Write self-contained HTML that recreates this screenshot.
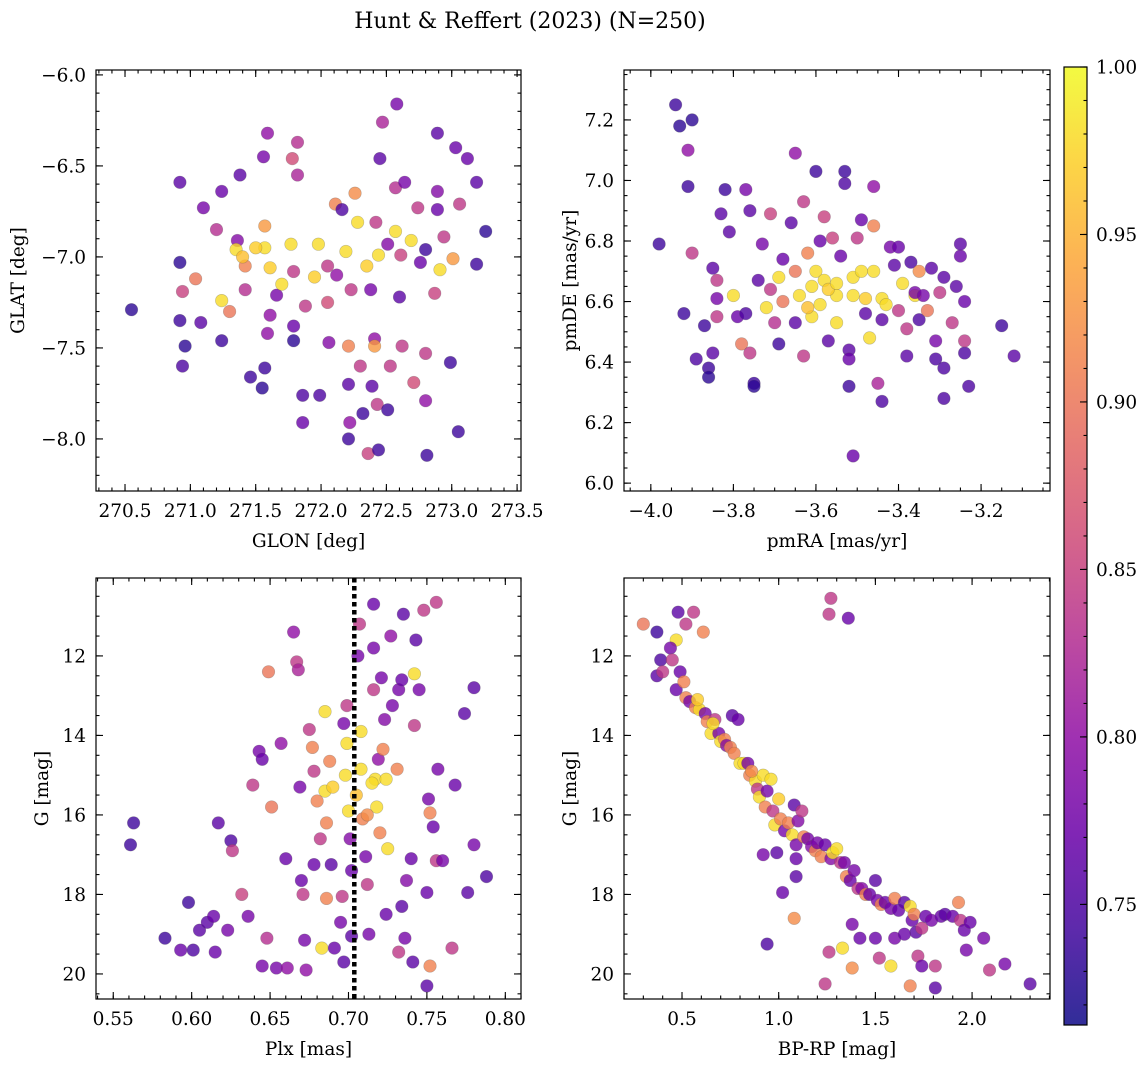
<!DOCTYPE html>
<html><head><meta charset="utf-8">
<style>
html,body{margin:0;padding:0;background:#fff;}
svg{display:block;font-family:"DejaVu Serif","Liberation Serif",serif;}
</style></head>
<body>
<svg id="fig" width="1148" height="1067" viewBox="0 0 1148 1067" xmlns="http://www.w3.org/2000/svg">
<text x="530" y="28" font-size="22" text-anchor="middle">Hunt &amp; Reffert (2023) (N=250)</text>
</svg>
<script>
// ---- Panel 1: GLON vs GLAT ----
const p1Lon=[270.55,270.92,270.92,270.92,270.96,270.94,270.94,271.04,271.10,271.08,271.24,271.20,271.24,271.24,271.38,271.36,271.35,271.42,271.42,271.46,271.55,271.59,271.56,271.57,271.57,271.61,271.66,271.59,271.57,271.78,271.82,271.77,271.79,271.79,271.79,271.82,271.86,271.86,271.98,271.95,271.99,272.05,272.11,272.06,272.12,272.16,272.19,272.23,272.21,272.26,272.28,272.21,272.22,272.21,272.30,272.32,272.36,272.38,272.42,272.44,272.41,272.43,272.44,272.45,272.47,272.51,272.53,272.41,272.39,272.51,272.58,272.57,272.57,272.61,272.60,272.64,272.62,272.69,272.71,272.74,272.76,272.80,272.80,272.80,272.81,272.89,272.89,272.89,272.91,272.94,273.01,273.03,272.99,273.06,273.12,273.05,273.19,273.19,273.26,272.87,271.61,271.88,271.40,271.70,271.30,272.35,272.05,271.50];
const p1Lat=[-7.29,-6.59,-7.03,-7.35,-7.49,-7.60,-7.19,-7.12,-6.73,-7.36,-6.64,-6.85,-7.24,-7.46,-6.55,-6.91,-6.96,-7.05,-7.18,-7.66,-7.72,-6.32,-6.45,-6.83,-6.95,-7.06,-7.21,-7.42,-7.61,-6.46,-6.55,-6.93,-7.08,-7.38,-7.46,-6.37,-7.91,-7.76,-6.93,-7.11,-7.76,-7.05,-6.71,-7.47,-7.10,-6.74,-6.97,-7.18,-7.49,-6.65,-6.81,-7.70,-7.91,-8.00,-7.60,-7.86,-8.08,-7.18,-6.81,-6.99,-7.45,-7.81,-8.06,-6.46,-6.26,-6.93,-7.60,-7.49,-7.71,-7.84,-6.16,-6.62,-6.86,-6.99,-7.22,-6.59,-7.49,-6.91,-7.69,-6.73,-7.03,-6.96,-7.53,-7.79,-8.09,-6.32,-6.64,-6.74,-7.07,-6.89,-7.01,-6.40,-7.58,-6.71,-6.46,-7.96,-7.04,-6.59,-6.86,-7.20,-7.32,-7.27,-7.00,-7.15,-7.30,-7.05,-7.25,-6.95];
const p1Prob=[0.73,0.76,0.73,0.74,0.73,0.75,0.85,0.90,0.78,0.76,0.77,0.83,0.98,0.74,0.76,0.79,0.98,0.91,0.83,0.74,0.73,0.80,0.78,0.93,0.98,0.97,0.78,0.80,0.74,0.86,0.82,0.98,0.84,0.77,0.73,0.83,0.77,0.75,0.98,0.97,0.75,0.84,0.91,0.79,0.80,0.75,0.98,0.84,0.91,0.92,0.98,0.76,0.80,0.74,0.84,0.74,0.85,0.78,0.84,0.98,0.80,0.84,0.74,0.76,0.82,0.79,0.84,0.93,0.76,0.74,0.78,0.83,0.98,0.85,0.76,0.78,0.84,0.98,0.86,0.84,0.77,0.74,0.84,0.80,0.74,0.76,0.79,0.77,0.98,0.84,0.93,0.77,0.74,0.84,0.77,0.74,0.74,0.76,0.73,0.85,0.80,0.84,0.96,0.98,0.90,0.97,0.86,0.97];
// ---- Panel 2: pmRA vs pmDE ----
const p2Ra=[-3.98,-3.94,-3.93,-3.91,-3.90,-3.91,-3.90,-3.92,-3.89,-3.87,-3.86,-3.86,-3.85,-3.85,-3.84,-3.84,-3.84,-3.83,-3.82,-3.81,-3.80,-3.79,-3.78,-3.77,-3.77,-3.76,-3.76,-3.75,-3.75,-3.74,-3.73,-3.72,-3.71,-3.71,-3.70,-3.69,-3.69,-3.68,-3.68,-3.66,-3.65,-3.65,-3.65,-3.64,-3.63,-3.63,-3.62,-3.61,-3.61,-3.60,-3.60,-3.59,-3.59,-3.58,-3.58,-3.57,-3.56,-3.55,-3.55,-3.54,-3.53,-3.53,-3.52,-3.52,-3.52,-3.51,-3.51,-3.51,-3.50,-3.49,-3.49,-3.48,-3.47,-3.46,-3.46,-3.46,-3.45,-3.44,-3.44,-3.44,-3.43,-3.42,-3.41,-3.40,-3.40,-3.39,-3.38,-3.38,-3.37,-3.36,-3.36,-3.35,-3.35,-3.34,-3.33,-3.32,-3.31,-3.31,-3.30,-3.29,-3.29,-3.29,-3.27,-3.26,-3.25,-3.25,-3.24,-3.24,-3.23,-3.24,-3.15,-3.12,-3.57,-3.55,-3.62,-3.48];
const p2De=[6.79,7.25,7.18,7.10,7.20,6.98,6.76,6.56,6.41,6.52,6.38,6.35,6.43,6.71,6.67,6.61,6.55,6.89,6.97,6.83,6.62,6.55,6.46,6.56,6.97,6.90,6.43,6.33,6.32,6.67,6.79,6.58,6.89,6.64,6.53,6.46,6.68,6.74,6.60,6.86,7.09,6.53,6.70,6.62,6.42,6.93,6.76,6.55,6.65,7.03,6.70,6.80,6.59,6.67,6.88,6.47,6.81,6.62,6.53,6.75,7.03,6.99,6.44,6.41,6.32,6.62,6.68,6.09,6.81,6.70,6.87,6.56,6.48,6.85,6.98,6.70,6.33,6.61,6.27,6.54,6.59,6.78,6.72,6.78,6.57,6.66,6.51,6.42,6.73,6.62,6.63,6.54,6.70,6.62,6.57,6.71,6.41,6.47,6.63,6.68,6.28,6.38,6.53,6.65,6.75,6.79,6.43,6.60,6.32,6.47,6.52,6.42,6.64,6.66,6.58,6.61];
const p2Prob=[0.74,0.74,0.73,0.80,0.73,0.74,0.84,0.74,0.75,0.74,0.74,0.73,0.76,0.76,0.84,0.78,0.84,0.76,0.74,0.76,0.98,0.77,0.90,0.75,0.78,0.76,0.84,0.74,0.73,0.76,0.78,0.98,0.85,0.84,0.83,0.74,0.98,0.77,0.90,0.76,0.80,0.76,0.90,0.98,0.84,0.84,0.91,0.98,0.98,0.74,0.98,0.77,0.98,0.98,0.85,0.76,0.85,0.98,0.98,0.77,0.74,0.75,0.76,0.77,0.74,0.98,0.98,0.77,0.84,0.98,0.77,0.76,0.98,0.91,0.80,0.98,0.82,0.98,0.75,0.76,0.98,0.78,0.76,0.77,0.84,0.98,0.84,0.76,0.75,0.98,0.78,0.75,0.92,0.78,0.90,0.76,0.75,0.78,0.84,0.76,0.75,0.75,0.84,0.76,0.77,0.76,0.75,0.77,0.75,0.84,0.74,0.76,0.97,0.98,0.96,0.97];
// ---- Panel 3: Plx vs G ----
const p3Plx=[0.563,0.561,0.583,0.593,0.598,0.601,0.605,0.610,0.614,0.617,0.615,0.625,0.626,0.623,0.632,0.636,0.639,0.643,0.645,0.645,0.648,0.651,0.654,0.649,0.657,0.660,0.661,0.665,0.667,0.668,0.669,0.670,0.671,0.672,0.673,0.675,0.677,0.678,0.678,0.680,0.682,0.683,0.685,0.685,0.686,0.686,0.688,0.689,0.691,0.695,0.696,0.698,0.699,0.697,0.699,0.700,0.701,0.702,0.702,0.697,0.707,0.706,0.708,0.708,0.709,0.711,0.712,0.713,0.716,0.716,0.716,0.717,0.718,0.719,0.720,0.721,0.722,0.723,0.724,0.725,0.724,0.727,0.728,0.731,0.732,0.732,0.734,0.734,0.736,0.735,0.737,0.740,0.742,0.742,0.743,0.745,0.748,0.750,0.750,0.752,0.752,0.751,0.756,0.754,0.756,0.757,0.760,0.766,0.768,0.774,0.776,0.780,0.780,0.788,0.741,0.690,0.715,0.705,0.712];
const p3G=[16.2,16.75,19.1,19.4,18.2,19.4,18.9,18.7,18.55,16.2,19.45,16.65,16.9,18.9,18.0,18.55,15.25,14.4,14.6,19.8,19.1,15.8,19.85,12.4,14.2,17.1,19.85,11.4,12.15,12.35,15.3,17.65,18.0,19.15,19.9,13.85,14.3,14.9,17.25,15.65,16.6,19.35,13.4,15.4,16.2,18.1,14.65,17.25,19.35,18.7,18.05,15.0,14.2,13.7,13.25,15.9,16.6,17.4,19.05,19.7,11.2,12.0,13.9,14.85,16.1,17.05,17.75,19.0,10.7,11.8,12.85,15.1,15.8,14.6,16.45,12.55,14.35,13.6,15.1,16.85,18.5,11.5,13.25,14.85,12.85,19.45,12.6,18.3,19.1,10.95,17.65,17.1,13.75,12.45,11.6,12.85,10.85,20.3,17.95,19.8,15.95,15.6,10.65,16.3,17.15,14.85,17.15,19.35,15.25,13.45,17.95,12.8,16.75,17.55,19.7,15.3,15.2,15.5,16.0];
const p3Prob=[0.74,0.74,0.74,0.77,0.74,0.75,0.76,0.76,0.77,0.76,0.77,0.75,0.84,0.78,0.85,0.78,0.84,0.78,0.77,0.78,0.83,0.90,0.78,0.90,0.80,0.77,0.80,0.80,0.84,0.82,0.78,0.77,0.84,0.78,0.80,0.84,0.91,0.84,0.77,0.91,0.84,0.98,0.98,0.98,0.91,0.91,0.91,0.76,0.77,0.78,0.84,0.98,0.98,0.78,0.84,0.98,0.79,0.77,0.76,0.76,0.84,0.78,0.98,0.98,0.91,0.78,0.84,0.78,0.77,0.78,0.84,0.98,0.98,0.80,0.91,0.78,0.91,0.79,0.98,0.98,0.77,0.80,0.78,0.91,0.78,0.84,0.77,0.76,0.78,0.76,0.79,0.77,0.84,0.98,0.76,0.78,0.84,0.76,0.77,0.91,0.91,0.78,0.84,0.77,0.84,0.78,0.78,0.84,0.77,0.76,0.76,0.76,0.78,0.75,0.76,0.97,0.98,0.96,0.92];
// ---- Panel 4: BP-RP vs G ----
const p4Col=[0.30,0.37,0.39,0.37,0.40,0.47,0.48,0.52,0.56,0.61,0.44,0.45,0.47,0.49,0.51,0.52,0.54,0.57,0.59,0.62,0.63,0.65,0.67,0.69,0.70,0.72,0.73,0.75,0.76,0.79,0.77,0.80,0.82,0.84,0.85,0.88,0.89,0.90,0.92,0.93,0.94,0.96,0.97,0.98,0.99,1.01,1.03,1.05,1.07,1.08,1.09,1.09,1.10,1.12,1.13,1.15,1.17,1.19,1.20,1.22,1.24,1.27,1.28,1.30,1.32,1.34,1.35,1.37,1.39,1.41,1.43,1.45,1.47,1.50,1.51,1.53,1.55,1.58,1.60,1.62,1.65,1.68,1.69,1.70,1.71,1.74,1.76,1.79,1.84,1.86,1.90,1.93,1.94,1.96,1.97,1.99,2.06,2.09,2.17,2.30,0.92,1.09,1.02,0.94,1.08,1.24,1.26,1.27,1.26,1.36,1.33,1.38,1.42,1.50,1.52,1.58,1.60,1.65,1.68,1.72,1.74,1.81,1.81,1.38,0.58,0.66,0.86,1.00];
const p4G=[11.2,11.4,12.1,12.5,12.4,11.6,10.9,11.2,10.9,11.4,11.8,12.1,12.85,12.4,12.65,13.05,13.15,13.3,13.35,13.45,13.65,13.95,13.6,13.95,14.15,14.1,14.25,14.3,13.5,13.6,14.45,14.7,14.7,14.7,15.0,15.15,15.35,15.55,15.0,15.8,15.4,15.1,15.9,16.25,16.95,16.1,16.4,16.2,16.5,15.75,16.75,17.55,16.15,15.9,16.55,16.6,16.8,16.9,16.7,17.05,16.75,17.1,16.95,16.85,17.2,17.2,17.55,17.65,17.4,17.85,17.85,18.0,18.0,17.65,18.15,18.25,18.2,18.35,18.1,18.4,18.2,18.3,18.65,18.5,18.95,18.85,18.55,18.65,18.55,18.5,18.55,18.2,18.65,18.9,19.4,18.7,19.1,19.9,19.75,20.25,17.0,17.1,17.95,19.25,18.6,20.25,19.45,10.55,10.95,11.05,19.35,19.85,19.1,19.1,19.6,19.8,19.1,19.0,20.3,19.55,19.8,20.35,19.8,18.75,13.1,13.7,14.9,15.6];
const p4Prob=[0.90,0.74,0.75,0.76,0.84,0.98,0.76,0.84,0.84,0.91,0.78,0.84,0.77,0.77,0.91,0.91,0.78,0.91,0.98,0.78,0.91,0.98,0.84,0.78,0.98,0.91,0.79,0.91,0.76,0.77,0.91,0.98,0.98,0.78,0.91,0.98,0.84,0.98,0.98,0.91,0.78,0.98,0.84,0.98,0.76,0.91,0.78,0.91,0.98,0.76,0.78,0.76,0.79,0.84,0.91,0.78,0.79,0.91,0.78,0.91,0.77,0.79,0.98,0.98,0.84,0.78,0.91,0.77,0.78,0.84,0.79,0.91,0.77,0.76,0.78,0.91,0.77,0.78,0.91,0.77,0.76,0.98,0.77,0.91,0.76,0.84,0.77,0.78,0.77,0.76,0.77,0.91,0.84,0.77,0.78,0.77,0.78,0.84,0.78,0.76,0.78,0.77,0.77,0.75,0.92,0.84,0.84,0.84,0.84,0.77,0.98,0.92,0.77,0.77,0.84,0.98,0.78,0.77,0.91,0.84,0.77,0.76,0.84,0.78,0.97,0.98,0.92,0.97];
// ---- axis ticks ----
const p1XTicks=[270.5,271.0,271.5,272.0,272.5,273.0,273.5];
const p1YTicks=[-6.0,-6.5,-7.0,-7.5,-8.0];
const p2XTicks=[-4.0,-3.8,-3.6,-3.4,-3.2];
const p2YTicks=[6.0,6.2,6.4,6.6,6.8,7.0,7.2];
const p3XTicks=[0.55,0.60,0.65,0.70,0.75,0.80];
const gTicks=[12,14,16,18,20];
const p4XTicks=[0.5,1.0,1.5,2.0];
const cbTicks=[0.75,0.80,0.85,0.90,0.95,1.00];
const plxMean=0.7037;

const NS="http://www.w3.org/2000/svg";
const svg=document.getElementById('fig');
function mk(tag,attrs,parent){const e=document.createElementNS(NS,tag);for(const k in attrs)e.setAttribute(k,attrs[k]);(parent||svg).appendChild(e);return e;}
const CMIN=0.714,CMAX=1.0;
const stops=[[13,8,135],[65,4,157],[106,0,168],[143,13,164],[177,42,144],[204,71,120],[225,100,98],[242,132,75],[252,166,54],[252,206,37],[240,249,33]];
function plasma(t){t=Math.max(0,Math.min(1,t));const f=t*10,i=Math.min(9,Math.floor(f)),r=f-i;const a=stops[i],b=stops[i+1];return 'rgb('+a.map((v,k)=>Math.round(v+(b[k]-v)*r)).join(',')+')';}
function cmap(p){return plasma((p-CMIN)/(CMAX-CMIN));}
function minors(a,b,step){const r=[];const s=Math.ceil(a/step-1e-9);for(let k=s;k*step<=b+1e-9;k++)r.push(+(k*step).toFixed(6));return r;}
const FS=18.5;
function panel(o){
  const g=mk('g',{});
  
  
  const X=v=>o.L+(v-o.x0)/(o.x1-o.x0)*(o.R-o.L);
  const Y=o.invY? (v=>o.T+(v-o.y0)/(o.y1-o.y0)*(o.B-o.T)) : (v=>o.B-(v-o.y0)/(o.y1-o.y0)*(o.B-o.T));
  const clipId=o.name+'-clip';
  const cp=mk('clipPath',{id:clipId},g);mk('rect',{x:o.L,y:o.T,width:o.R-o.L,height:o.B-o.T},cp);
  const pts=mk('g',{'clip-path':'url(#'+clipId+')'},g);
  
  
  for(let i=0;i<o.xs.length;i++){
    const c=mk('circle',{cx:X(o.xs[i]).toFixed(1),cy:Y(o.ys[i]).toFixed(1),r:6.3,fill:cmap(o.cs[i]),'fill-opacity':0.8,stroke:'#555','stroke-opacity':0.35,'stroke-width':0.6},pts);
    
    
  }
  if(o.vline!==undefined){
    const l=mk('line',{x1:X(o.vline),x2:X(o.vline),y1:o.T,y2:o.B,stroke:'#000','stroke-width':4.5,'stroke-dasharray':'4.5,3.5'},g);
    
    
  }
  mk('rect',{x:o.L,y:o.T,width:o.R-o.L,height:o.B-o.T,fill:'none',stroke:'#000','stroke-width':1.2},g);
  const tk=mk('g',{stroke:'#000','stroke-width':1.1},g);
  const xlo=Math.min(o.x0,o.x1),xhi=Math.max(o.x0,o.x1),ylo=Math.min(o.y0,o.y1),yhi=Math.max(o.y0,o.y1);
  minors(xlo,xhi,o.xm).forEach(v=>{const x=X(v);mk('line',{x1:x,x2:x,y1:o.B,y2:o.B-3.5},tk);mk('line',{x1:x,x2:x,y1:o.T,y2:o.T+3.5},tk);});
  minors(ylo,yhi,o.ym).forEach(v=>{const y=Y(v);mk('line',{x1:o.L,x2:o.L+3.5,y1:y,y2:y},tk);mk('line',{x1:o.R,x2:o.R-3.5,y1:y,y2:y},tk);});
  o.xt.forEach(v=>{const x=X(v);mk('line',{x1:x,x2:x,y1:o.B,y2:o.B-7},tk);mk('line',{x1:x,x2:x,y1:o.T,y2:o.T+7},tk);
    const t=mk('text',{x:x,y:o.B+26,'font-size':FS,'text-anchor':'middle'},g);t.textContent=v.toFixed(o.xd).replace('-','\u2212');
    });
  o.yt.forEach(v=>{const y=Y(v);mk('line',{x1:o.L,x2:o.L+7,y1:y,y2:y},tk);mk('line',{x1:o.R,x2:o.R-7,y1:y,y2:y},tk);
    const t=mk('text',{x:o.L-10,y:y+6.5,'font-size':FS,'text-anchor':'end'},g);t.textContent=v.toFixed(o.yd).replace('-','\u2212');
    });
  const xl=mk('text',{x:(o.L+o.R)/2,y:o.B+56,'font-size':FS,'text-anchor':'middle'},g);xl.textContent=o.xlab;
  
  const yx=o.L-o.ylabOff,yy=(o.T+o.B)/2;
  const yl=mk('text',{x:yx,y:yy,'font-size':FS,'text-anchor':'middle',transform:'rotate(-90 '+yx+' '+yy+')'},g);yl.textContent=o.ylab;
  
}
panel({name:'sky-position-panel',L:96,R:521,T:70,B:491,x0:270.278,x1:273.53,y0:-8.286,y1:-5.973,xs:p1Lon,ys:p1Lat,cs:p1Prob,xt:p1XTicks,yt:p1YTicks,xm:0.1,ym:0.1,xd:1,yd:1,xlab:'GLON [deg]',ylab:'GLAT [deg]',ylabOff:72});
panel({name:'proper-motion-panel',L:624,R:1050,T:70,B:491,x0:-4.065,x1:-3.033,y0:5.974,y1:7.365,xs:p2Ra,ys:p2De,cs:p2Prob,xt:p2XTicks,yt:p2YTicks,xm:0.05,ym:0.05,xd:1,yd:1,xlab:'pmRA [mas/yr]',ylab:'pmDE [mas/yr]',ylabOff:48});
panel({name:'parallax-magnitude-panel',L:96,R:521,T:578,B:999,x0:0.539,x1:0.810,y0:10.04,y1:20.63,invY:true,xs:p3Plx,ys:p3G,cs:p3Prob,xt:p3XTicks,yt:gTicks,xm:0.01,ym:0.5,xd:2,yd:0,xlab:'Plx [mas]',ylab:'G [mag]',ylabOff:48,vline:plxMean});
panel({name:'color-magnitude-panel',L:624,R:1050,T:578,B:999,x0:0.2,x1:2.403,y0:10.04,y1:20.63,invY:true,xs:p4Col,ys:p4G,cs:p4Prob,xt:p4XTicks,yt:gTicks,xm:0.1,ym:0.5,xd:1,yd:0,xlab:'BP-RP [mag]',ylab:'G [mag]',ylabOff:48});

// colorbar
(function(){
  const L=1064,R=1087,T=67,B=1025;
  const g=mk('g',{});
  
  
  const defs=mk('defs',{},g);
  const lg=mk('linearGradient',{id:'cbgrad',x1:0,y1:1,x2:0,y2:0},defs);
  for(let i=0;i<=20;i++){mk('stop',{offset:(i/20),'stop-color':plasma(i/20),'stop-opacity':0.85},lg);}
  mk('rect',{x:L,y:T,width:R-L,height:B-T,fill:'url(#cbgrad)',stroke:'#000','stroke-width':1.2},g);
  const Y=v=>B-(v-CMIN)/(CMAX-CMIN)*(B-T);
  minors(0.72,1.0,0.01).forEach(v=>mk('line',{x1:R,x2:R-3.5,y1:Y(v),y2:Y(v),stroke:'#000','stroke-width':1.1},g));
  cbTicks.forEach(v=>{const y=Y(v);mk('line',{x1:R,x2:R-7,y1:y,y2:y,stroke:'#000','stroke-width':1.1},g);
    const t=mk('text',{x:R+9,y:y+6.5,'font-size':FS},g);t.textContent=v.toFixed(2);
    });
})();
</script>
</body></html>
